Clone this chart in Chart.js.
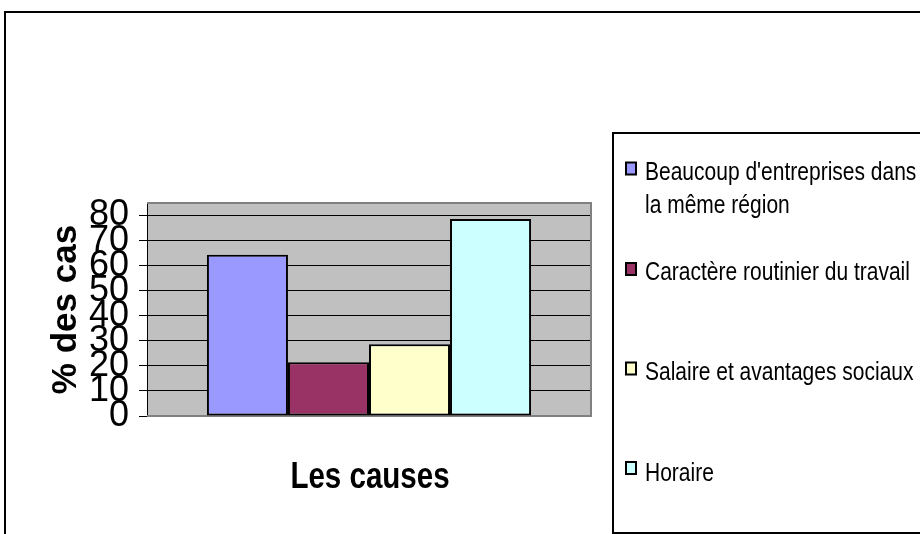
<!DOCTYPE html>
<html>
<head>
<meta charset="utf-8">
<script src="https://cdn.jsdelivr.net/npm/chart.js@4.4.1/dist/chart.umd.min.js"></script>
<style>
    html, body { margin: 0; padding: 0; background: #fff; }
    #wrap { width: 920px; height: 534px; }
</style>
</head>
<body>
<div id="wrap"><canvas id="causesChart" width="920" height="534"></canvas></div>
<script>
// Data
const categories = [''];
const causeLabels = [
    "Beaucoup d'entreprises dans\nla même région",
    'Caractère routinier du travail',
    'Salaire et avantages sociaux',
    'Horaire'
];
const causeValues = [64.3, 21.4, 28.6, 78.6];
const causeColors = ['#9999FF', '#993366', '#FFFFCC', '#CCFFFF'];
const yTicks = [0, 10, 20, 30, 40, 50, 60, 70, 80];
const yMax = 85;
const xTitle = 'Les causes';
const yTitle = '% des cas';

const FONT = "'Liberation Sans', Arial, sans-serif";

// plot area as placed in the reference picture
const AREA = { left: 147, right: 591, top: 203, bottom: 416 };

// draws text squeezed horizontally, like the old Excel export does
function squeezedText(ctx, text, x, y, sx, align) {
    ctx.save();
    ctx.translate(x, y);
    ctx.scale(sx, 1);
    ctx.textAlign = align || 'left';
    ctx.textBaseline = 'alphabetic';
    ctx.fillText(text, 0, 0);
    ctx.restore();
}

// Frame, gray plot background, x title and the legend box
const excelLook = {
    id: 'excelLook',
    beforeDraw(chart) {
        const { ctx, chartArea: a } = chart;
        ctx.save();
        ctx.fillStyle = '#fff';
        ctx.fillRect(0, 0, chart.width, chart.height);
        ctx.fillStyle = '#C0C0C0';
        ctx.fillRect(a.left, a.top, a.right - a.left, a.bottom - a.top);
        ctx.restore();
    },
    beforeDatasetsDraw(chart) {
        const { ctx, chartArea: a } = chart;
        ctx.save();
        ctx.strokeStyle = '#808080';
        ctx.lineWidth = 2;
        ctx.beginPath();
        ctx.moveTo(a.left, a.top);
        ctx.lineTo(a.right, a.top);
        ctx.lineTo(a.right, a.bottom);
        ctx.lineTo(a.left, a.bottom);
        ctx.stroke();
        ctx.restore();
    },
    afterDraw(chart) {
        const { ctx, chartArea: a } = chart;
        ctx.save();
        // outer chart frame (runs off the picture right and bottom)
        ctx.strokeStyle = '#000';
        ctx.lineWidth = 2;
        ctx.strokeRect(5, 12, 2000, 2000);

        // x axis title
        ctx.fillStyle = '#000';
        ctx.font = 'bold 36px ' + FONT;
        squeezedText(ctx, xTitle, (a.left + a.right) / 2 + 1, 488, 0.82, 'center');

        // legend box
        ctx.lineWidth = 2;
        ctx.strokeRect(613, 133, 600, 400);

        const markY = [168.5, 269, 368.5, 468];
        const baseY = [180, 280, 380, 481];
        chart.data.datasets.forEach((ds, i) => {
            const cy = markY[i];
            ctx.fillStyle = ds.backgroundColor;
            ctx.fillRect(626, cy - 6, 10, 12);
            ctx.lineWidth = 2;
            ctx.strokeStyle = '#000';
            ctx.strokeRect(626, cy - 6, 10, 12);

            ctx.fillStyle = '#000';
            ctx.font = '25px ' + FONT;
            ds.label.split('\n').forEach((line, j) => {
                squeezedText(ctx, line, 645, baseY[i] + j * 33, 0.84);
            });
        });
        ctx.restore();
    }
};

const datasets = causeLabels.map((label, i) => ({
    label: label,
    data: [causeValues[i]],
    backgroundColor: causeColors[i],
    borderColor: '#000',
    borderWidth: 2,
    borderSkipped: false,
    categoryPercentage: 0.73,
    barPercentage: 1
}));

new Chart(document.getElementById('causesChart'), {
    type: 'bar',
    data: { labels: categories, datasets: datasets },
    plugins: [excelLook],
    options: {
        responsive: false,
        animation: false,
        devicePixelRatio: 1,
        layout: {
            padding: { left: 0, top: AREA.top, right: 920 - AREA.right, bottom: 0 }
        },
        plugins: {
            legend: { display: false },
            title: { display: false },
            tooltip: { enabled: false }
        },
        scales: {
            x: {
                grid: { display: false },
                border: { display: false },
                ticks: { display: false },
                afterFit(scale) { scale.height = 534 - AREA.bottom; }
            },
            y: {
                min: 0,
                max: yMax,
                afterBuildTicks(scale) {
                    scale.ticks = yTicks.map(v => ({ value: v }));
                },
                grid: {
                    color: ctx => (ctx.tick && ctx.tick.value === 0) ? '#808080' : '#000',
                    tickColor: '#000',
                    tickLength: 8,
                    lineWidth: 1
                },
                border: { display: true, color: '#000', width: 1 },
                ticks: {
                    autoSkip: false,
                    color: '#000',
                    padding: 10,
                    font: { family: FONT, size: 36, lineHeight: 1 }
                },
                title: {
                    display: true,
                    text: yTitle,
                    color: '#000',
                    font: { family: FONT, size: 35, weight: 'bold', lineHeight: 1 },
                    padding: { top: 49, bottom: 0 }
                },
                afterFit(scale) { scale.width = AREA.left; }
            }
        }
    }
});
</script>
</body>
</html>
